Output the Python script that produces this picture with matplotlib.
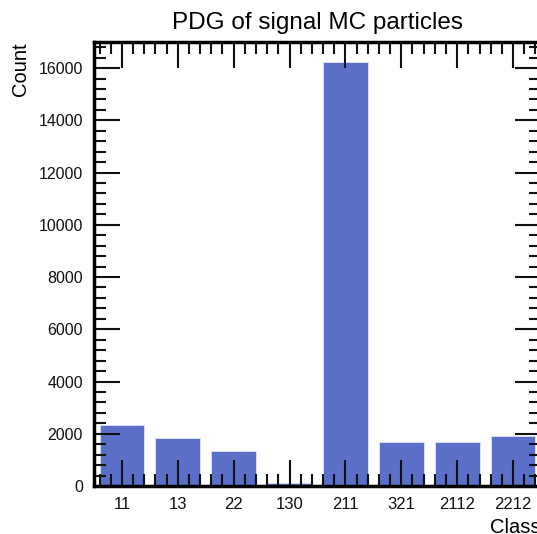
import matplotlib
matplotlib.use('Agg')
import matplotlib.pyplot as plt
from matplotlib.ticker import AutoMinorLocator, MultipleLocator

# PDG codes of signal MC particles and their counts
classes = ['11', '13', '22', '130', '211', '321', '2112', '2212']
counts = [2330, 1840, 1340, 100, 16250, 1700, 1700, 1930]

plt.rcParams['font.family'] = ['Liberation Sans', 'DejaVu Sans']

fig = plt.figure(figsize=(5.37, 5.34), dpi=100)
# axes run a little past the right edge, like the reference crop
ax = fig.add_axes([0.175, 0.0899, 0.8324, 0.8315])

pos = list(range(len(classes)))
ax.bar(pos, counts, width=0.8, color='#5a6fc8', edgecolor='#dfe4f5',
       linewidth=0.6, zorder=1)
ax.set_axisbelow(False)

ax.set_xlim(-0.5, len(classes) - 0.5)
ax.set_ylim(0, 17000)
ax.set_xticks(pos)
ax.set_xticklabels(classes)
ax.xaxis.set_minor_locator(AutoMinorLocator(5))
ax.yaxis.set_major_locator(MultipleLocator(2000))
ax.yaxis.set_minor_locator(MultipleLocator(400))

ax.tick_params(which='both', direction='in', top=True, right=True,
               width=1.5, colors='#111111')
ax.tick_params(which='major', length=19, pad=8)
ax.tick_params(which='minor', length=8.5)
ax.tick_params(axis='x', labelsize=12)
ax.tick_params(axis='y', labelsize=11.5)
for s in ax.spines.values():
    s.set_linewidth(2.5)
    s.set_zorder(4)

ax.set_title('PDG of signal MC particles', fontsize=17.5, pad=9)
ax.set_ylabel('Count', loc='top', fontsize=14.5, labelpad=6)
ax.set_xlabel('Class', loc='right', fontsize=14.5, labelpad=4)

fig.savefig('out.png', dpi=100)
